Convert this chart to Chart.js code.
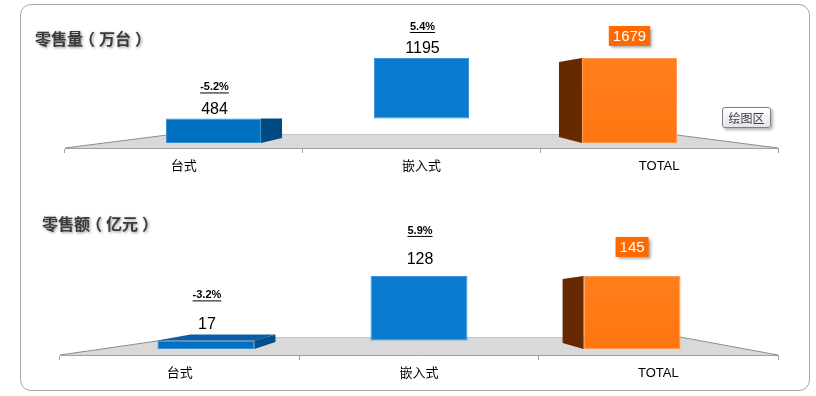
<!DOCTYPE html>
<html>
<head>
<meta charset="utf-8">
<script src="https://cdn.jsdelivr.net/npm/chart.js@4.4.1/dist/chart.umd.min.js"></script>
<style>
  html, body { margin:0; padding:0; background:#fff; width:816px; height:396px; overflow:hidden; }
  #frame { position:absolute; left:20px; top:4px; width:788px; height:385px; border:1px solid #a6a6a6; border-radius:11px; }
  .panel { position:absolute; left:0; width:816px; height:198px; }
  .title { position:absolute; font-family:"Noto Sans CJK SC", sans-serif; font-weight:bold; font-size:16px; line-height:16px;
           color:#3a3a3a; text-shadow:1px 1px 3px rgba(0,0,0,0.45); white-space:nowrap; }
  .title .p { display:inline-block; width:16px; text-align:center; font-feature-settings:"halt"; }
  #tip { position:absolute; left:722px; top:107px; width:47px; height:19px; border:1px solid #7f7f7f; border-radius:3px;
         background:linear-gradient(#ffffff,#e4e4ec); box-shadow:2px 2px 3px rgba(0,0,0,0.3);
         font-family:"Noto Sans CJK SC", sans-serif; font-size:12px; line-height:19px; text-align:center; color:#404040; }
</style>
</head>
<body>
<div id="frame"></div>
<div class="panel" style="top:0"><canvas id="c1" width="816" height="198"></canvas></div>
<div class="panel" style="top:198px"><canvas id="c2" width="816" height="198"></canvas></div>
<div class="title" style="left:35px;top:30px">零售量<span class="p">（</span>万台<span class="p">）</span></div>
<div class="title" style="left:42px;top:215px">零售额<span class="p">（</span>亿元<span class="p">）</span></div>
<div id="tip">绘图区</div>
<script>
// ---- data ----
const categories = ['台式', '嵌入式', 'TOTAL'];
const volumeValues = [484, 1195, 1679];      // 零售量（万台）
const volumeGrowth = ['-5.2%', '5.4%', ''];
const revenueValues = [17, 128, 145];        // 零售额（亿元）
const revenueGrowth = ['-3.2%', '5.9%', ''];

// waterfall: components stack cumulatively, the last one is the total from zero
function waterfall(values) {
  const out = [];
  let run = 0;
  values.forEach((v, i) => {
    if (i === values.length - 1) { out.push({ x: i, y: [0, v] }); }
    else { out.push({ x: i, y: [run, run + v] }); run += v; }
  });
  return out;
}

const FONT = '"Liberation Sans", Arial, "Noto Sans CJK SC", sans-serif';

const threeD = {
  id: 'threeD',
  beforeDatasetsDraw(chart, args, o) {
    const ctx = chart.ctx, a = chart.chartArea;
    const fy = a.bottom, by = a.bottom - o.depth;
    const bl = a.left + o.insetL, br = a.right - o.insetR;
    ctx.save();
    ctx.beginPath();
    ctx.moveTo(a.left, fy); ctx.lineTo(bl, by); ctx.lineTo(br, by); ctx.lineTo(a.right, fy); ctx.closePath();
    ctx.fillStyle = '#d9d9d9'; ctx.fill();
    ctx.strokeStyle = '#c4c4c4'; ctx.lineWidth = 1;
    ctx.beginPath(); ctx.moveTo(bl, by + 0.5); ctx.lineTo(br, by + 0.5); ctx.stroke();
    ctx.strokeStyle = '#8c8c8c';
    ctx.beginPath(); ctx.moveTo(a.left, fy); ctx.lineTo(bl, by); ctx.stroke();
    ctx.beginPath(); ctx.moveTo(a.right, fy); ctx.lineTo(br, by); ctx.stroke();
    ctx.restore();
  },
  afterDatasetsDraw(chart, args, o) {
    const ctx = chart.ctx;
    const meta = chart.getDatasetMeta(0);
    meta.data.forEach((el, i) => {
      const p = el.getProps(['x', 'y', 'base', 'width'], true);
      const left = p.x - p.width / 2, right = p.x + p.width / 2;
      const s = o.sides[i];
      ctx.save();
      if (s) {
        const edge = s.dx > 0 ? right : left;
        ctx.beginPath();
        ctx.moveTo(edge, p.y); ctx.lineTo(edge + s.dx, p.y + s.topDy);
        ctx.lineTo(edge + s.dx, p.base + s.botDy); ctx.lineTo(edge, p.base); ctx.closePath();
        ctx.fillStyle = s.color; ctx.fill();
        if (s.topFace) {
          ctx.beginPath();
          ctx.moveTo(left, p.y); ctx.lineTo(right, p.y);
          ctx.lineTo(right + s.dx, p.y + s.topDy); ctx.lineTo(left + s.topLeftDx, p.y + s.topDy); ctx.closePath();
          ctx.fillStyle = s.topColor; ctx.fill();
        }
      }
      // labels
      const g = o.growth[i];
      ctx.textAlign = 'center'; ctx.textBaseline = 'middle';
      if (i === meta.data.length - 1) {
        const txt = String(o.values[i]);
        ctx.font = '15px ' + FONT;
        const w = ctx.measureText(txt).width + 8, h = 20;
        const cy = p.y + o.boxDy;
        ctx.save();
        ctx.shadowColor = 'rgba(0,0,0,0.4)'; ctx.shadowBlur = 3; ctx.shadowOffsetX = 2; ctx.shadowOffsetY = 2;
        ctx.fillStyle = '#ff6a00';
        ctx.fillRect(p.x - w / 2, cy - h / 2, w, h);
        ctx.restore();
        ctx.fillStyle = '#ffffff';
        ctx.fillText(txt, p.x, cy + 1);
      } else {
        ctx.fillStyle = '#000';
        ctx.font = '16px ' + FONT;
        ctx.fillText(String(o.values[i]), p.x + 1, p.y + o.valueDy);
        if (g) {
          ctx.font = 'bold 11px ' + FONT;
          const gy = p.y + o.growthDy;
          ctx.fillText(g, p.x + 1, gy);
          const gw = ctx.measureText(g).width;
          ctx.strokeStyle = '#000'; ctx.lineWidth = 1;
          ctx.beginPath(); ctx.moveTo(p.x + 1 - gw / 2, gy + 5.5); ctx.lineTo(p.x + 1 + gw / 2, gy + 5.5); ctx.stroke();
        }
      }
      ctx.restore();
    });
  }
};

function makeChart(id, values, growth, cfg) {
  const colors = ['#0070c0', '#0a7bcf', null];
  return new Chart(document.getElementById(id), {
    type: 'bar',
    data: {
      labels: categories,
      datasets: [{
        data: waterfall(values),
        xAxisID: 'xb', yAxisID: 'y',
        backgroundColor: (c) => {
          if (c.dataIndex !== values.length - 1) return colors[c.dataIndex];
          const ch = c.chart, a = ch.chartArea;
          if (!a) return '#ff7a12';
          const gr = ch.ctx.createLinearGradient(0, a.top, 0, a.bottom);
          gr.addColorStop(0, '#ff8424'); gr.addColorStop(1, '#ff7510');
          return gr;
        },
        borderColor: ['#3d8fd0', '#3a95dc', '#ff9a50'],
        borderWidth: 1,
        borderSkipped: false,
        categoryPercentage: 1,
        barPercentage: cfg.barPct
      }]
    },
    options: {
      responsive: false, animation: false, devicePixelRatio: 1,
      layout: { padding: { left: cfg.left, right: 38, top: 20, bottom: 0 } },
      plugins: {
        legend: { display: false }, tooltip: { enabled: false },
        threeD: {
          depth: cfg.depth, insetL: cfg.insetL, insetR: cfg.insetR,
          values: values, growth: growth,
          valueDy: cfg.valueDy, growthDy: cfg.growthDy, boxDy: cfg.boxDy,
          sides: cfg.sides
        }
      },
      scales: {
        x: {
          type: 'category', position: 'bottom', offset: true,
          grid: { offset: true, drawOnChartArea: false, drawTicks: true, tickLength: 5, color: '#a0a0a0' },
          border: { display: true, color: '#a0a0a0' },
          ticks: { color: '#000', font: { size: 13, family: FONT }, padding: cfg.tickPad, maxRotation: 0 },
          afterFit: (s) => { s.height = cfg.axisH; }
        },
        xb: {
          type: 'linear', display: false, offset: false, min: cfg.xMin, max: cfg.xMax,
          afterBuildTicks: (s) => { s.ticks = categories.map((c, i) => ({ value: i })); }
        },
        y: { type: 'linear', display: false, min: cfg.yMin, max: cfg.yMax }
      }
    },
    plugins: [threeD]
  });
}

makeChart('c1', volumeValues, volumeGrowth, {
  left: 65, axisH: 50, tickPad: 6, barPct: 0.457,
  xMin: -0.714, xMax: 2.714, yMin: -100, yMax: 2430,
  depth: 14, insetL: 110, insetR: 109,
  valueDy: -9, growthDy: -31, boxDy: -22,
  sides: [
    { dx: 21, topDy: 0, botDy: -5, color: '#004b82' },
    null,
    { dx: -23, topDy: 4, botDy: -6, color: '#662900' }
  ]
});

makeChart('c2', revenueValues, revenueGrowth, {
  left: 60, axisH: 41, tickPad: 6, barPct: 0.455,
  xMin: -0.685, xMax: 2.685, yMin: -12, yMax: 260,
  depth: 18, insetL: 125, insetR: 98,
  valueDy: -16, growthDy: -45, boxDy: -29,
  sides: [
    { dx: 21, topDy: -6, botDy: -7, color: '#00508a', topFace: true, topColor: '#0a5ea6', topLeftDx: 33 },
    null,
    { dx: -21, topDy: 3, botDy: -6, color: '#662900' }
  ]
});
</script>
</body>
</html>
